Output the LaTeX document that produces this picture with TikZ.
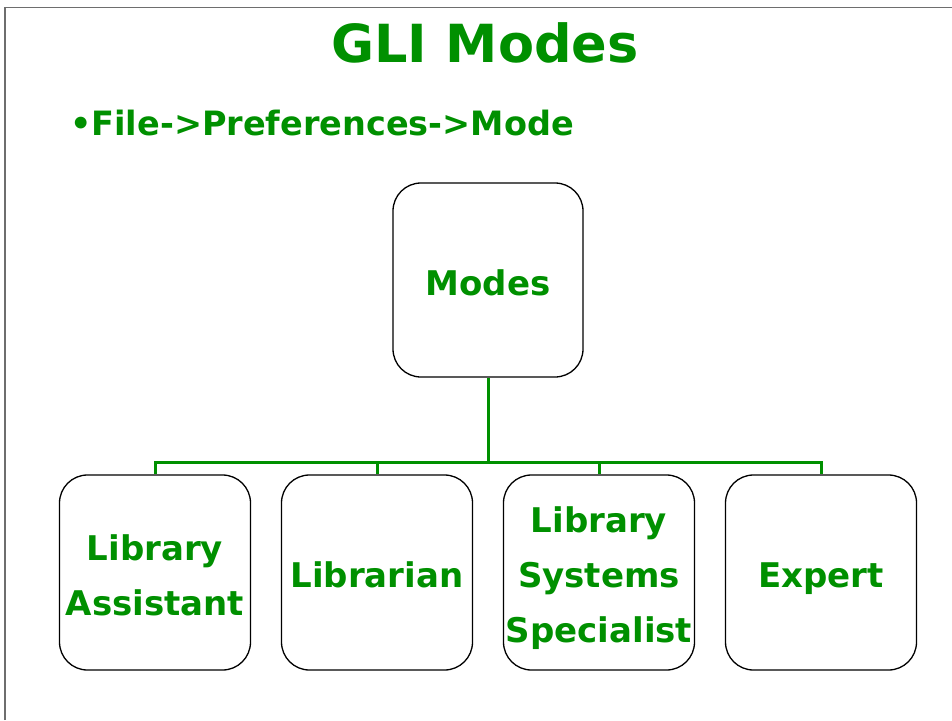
\documentclass[tikz,border=0pt]{standalone}
\usepackage{fontspec}
\setmainfont{DejaVu Sans}
\definecolor{gligreen}{RGB}{0,144,0}
\definecolor{framegray}{RGB}{110,110,110}
\tikzset{
  modebox/.style={draw=black, line width=1.3pt, rounded corners=28pt,
    minimum width=191pt, minimum height=195pt, inner sep=0pt,
    align=center, text=gligreen, font=\bfseries\fontsize{34}{55}\selectfont,
    text height=30pt, text depth=0pt},
  conn/.style={draw=gligreen, line width=3pt},
  titletext/.style={text=gligreen, font=\bfseries\fontsize{52.5}{60}\selectfont, inner sep=0pt},
  bullettext/.style={text=gligreen, font=\bfseries\fontsize{33.5}{40}\selectfont, inner sep=0pt}
}
\begin{document}
\begin{tikzpicture}[x=1pt,y=-1pt]
\useasboundingbox (0,0) rectangle (952,720);
\fill[white] (0,0) rectangle (952,720);
\draw[framegray, line width=1.5pt] (5,720) -- (5,7.5) -- (952,7.5);
\node[titletext, anchor=base] (title) at (485,62) {GLI Modes};
\node[bullettext, anchor=base west] (path) at (70,135) {•File->Preferences->Mode};
\node[modebox, minimum width=190pt, minimum height=194pt] (modes) at (488,280) {Modes};
\node[modebox, text height=85pt] (b1) at (155,572.5) {Library\\Assistant};
\node[modebox] (b2) at (377,572.5) {Librarian};
\node[modebox, text height=140pt] (b3) at (599,572.5) {Library\\Systems\\Specialist};
\node[modebox] (b4) at (821,572.5) {Expert};
\coordinate (j) at (488,462);
\draw[conn] (modes.south) -- (j);
\draw[conn] (b1.north) |- (j) -| (b4.north);
\draw[conn] (b2.north) -- (b2.north |- j);
\draw[conn] (b3.north) -- (b3.north |- j);
\end{tikzpicture}
\end{document}
